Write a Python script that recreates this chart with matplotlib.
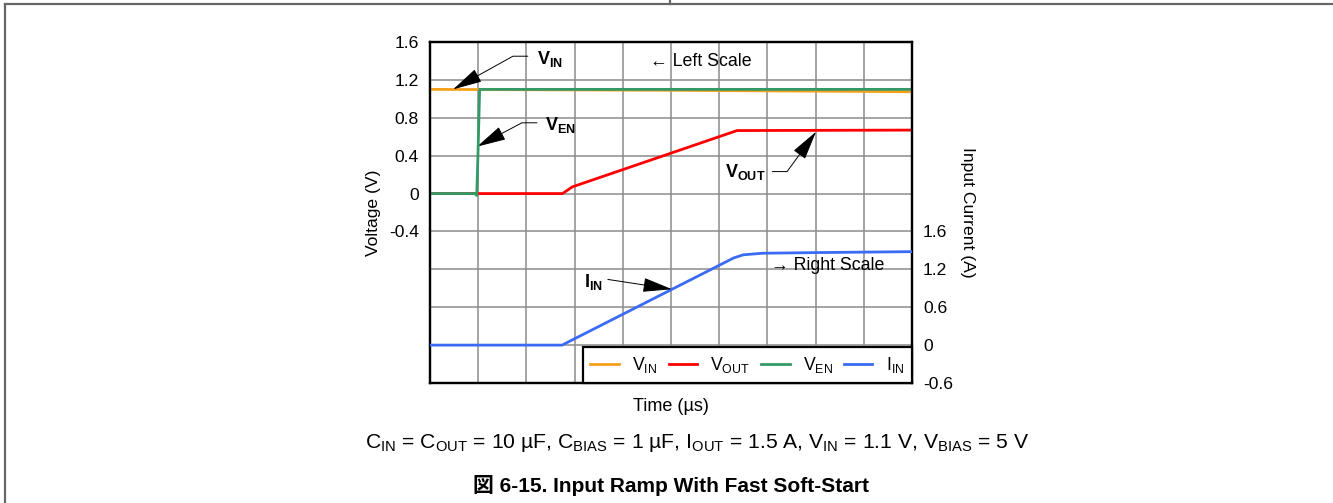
import matplotlib
matplotlib.use("Agg")
import matplotlib.pyplot as plt
from matplotlib.lines import Line2D

plt.rcParams['font.family'] = ['Liberation Sans', 'DejaVu Sans', 'Noto Sans CJK JP']
plt.rcParams['mathtext.fontset'] = 'custom'
plt.rcParams['mathtext.rm'] = 'Liberation Sans'
plt.rcParams['mathtext.it'] = 'Liberation Sans:italic'
plt.rcParams['mathtext.bf'] = 'Liberation Sans:bold'

# Time in scope divisions
t_vin = [0, 5, 10]
vin = [1.10, 1.09, 1.075]

t_ven = [0, 0.93, 0.97, 1.0, 1.03, 1.08, 10]
ven = [0, 0, -0.02, 0.5, 1.10, 1.10, 1.10]

t_vout = [0, 2.75, 2.95, 6.37, 10]
vout = [0, 0, 0.07, 0.665, 0.67]

t_iin = [0, 2.74, 6.3, 6.5, 6.9, 8, 10]
iin = [0, 0, 1.38, 1.43, 1.455, 1.465, 1.48]

left_ticks = [-0.4, 0, 0.4, 0.8, 1.2, 1.6]
left_ticklabels = ['-0.4', '0', '0.4', '0.8', '1.2', '1.6']
right_ticks = [-0.6, 0, 0.6, 1.2, 1.8]
right_ticklabels = ['-0.6', '0', '0.6', '1.2', '1.6']

c_vin = '#F5A01A'
c_vout = '#FF0000'
c_ven = '#339966'
c_iin = '#3A6BF5'

fig = plt.figure(figsize=(13.33, 5.03), dpi=100)
ax = fig.add_axes([430 / 1333, 1 - 383 / 503, 482 / 1333, 341 / 503])
ax2 = ax.twinx()

lw = 2.0
ax.plot(t_vout, vout, color=c_vout, lw=lw, zorder=3)
ax.plot(t_vin, vin, color=c_vin, lw=lw, zorder=3)
ax.plot(t_ven, ven, color=c_ven, lw=lw, zorder=4)
ax2.plot(t_iin, iin, color=c_iin, lw=lw, zorder=3)

ax.set_xlim(0, 10)
ax.set_ylim(-2.0, 1.6)
ax2.set_ylim(-0.6, 4.8)

# grid: 10 x 9 divisions
ax.set_xticks([i for i in range(11)])
ax.set_yticks(left_ticks)
ax.set_yticks([1.6 - 0.4 * i for i in range(10)], minor=True)
ax.grid(True, which='both', color='#8c8c8c', lw=1.1)
ax.set_axisbelow(True)
ax.tick_params(axis='both', which='both', length=0, labelbottom=False)
ax.set_yticklabels(left_ticklabels, fontsize=12.6)
ax.tick_params(axis='y', pad=8)
ax2.set_yticks(right_ticks)
ax2.set_yticklabels(right_ticklabels, fontsize=12.6)
ax2.tick_params(axis='y', which='both', length=0, pad=8)
for a in (ax, ax2):
    for s in a.spines.values():
        s.set_linewidth(1.6)
        s.set_color('black')

ax.set_ylabel('Voltage (V)', fontsize=12.6, labelpad=6)
ax2.set_ylabel('Input Current (A)', fontsize=12.6, rotation=-90, labelpad=16)
ax.set_xlabel('Time (µs)', fontsize=13, labelpad=11)

arrow_kw = dict(arrowstyle='-|>,head_length=1.85,head_width=0.45', color='black',
                lw=0.7, shrinkA=0, shrinkB=0, mutation_scale=10)

# V_IN callout
ax.text(2.22, 1.42, r'$\mathbf{V_{IN}}$', fontsize=13, ha='left', va='center')
ax.annotate('', xy=(0.48, 1.10), xytext=(2.03, 1.45),
            arrowprops=dict(**arrow_kw, connectionstyle='angle,angleA=0,angleB=29,rad=0'))
# V_EN callout
ax.text(2.39, 0.726, r'$\mathbf{V_{EN}}$', fontsize=13, ha='left', va='center')
ax.annotate('', xy=(0.975, 0.495), xytext=(2.22, 0.747),
            arrowprops=dict(**arrow_kw, connectionstyle='angle,angleA=0,angleB=28,rad=0'))
# V_OUT callout
ax.text(6.12, 0.232, r'$\mathbf{V_{OUT}}$', fontsize=13, ha='left', va='center')
ax.annotate('', xy=(8.01, 0.653), xytext=(7.1, 0.232),
            arrowprops=dict(**arrow_kw, connectionstyle='angle,angleA=0,angleB=54,rad=0'))
# I_IN callout
ax2.text(3.2, 0.995, r'$\mathbf{I_{IN}}$', fontsize=13, ha='left', va='center')
ax2.annotate('', xy=(5.02, 0.885), xytext=(3.69, 1.04),
             arrowprops=dict(**arrow_kw, connectionstyle='arc3'))

ax.text(4.56, 1.39, '← Left Scale', fontsize=12.8, ha='left', va='center')
ax2.text(7.07, 1.26, '→ Right Scale', fontsize=12.8, ha='left', va='center')

handles = [Line2D([], [], color=c, lw=lw) for c in (c_vin, c_vout, c_ven, c_iin)]
labels = [r'V$_{\mathrm{IN}}$', r'V$_{\mathrm{OUT}}$', r'V$_{\mathrm{EN}}$', r'I$_{\mathrm{IN}}$']
leg = ax2.legend(handles, labels, loc='lower right', ncol=4, fontsize=12.7,
                 frameon=True, fancybox=False, framealpha=1, edgecolor='black',
                 borderaxespad=0, handlelength=1.6, handletextpad=0.75,
                 columnspacing=0.65, borderpad=0.45)
leg.get_frame().set_linewidth(1.6)

fig.text(697 / 1333, 1 - 443 / 503,
         r'C$_{\mathrm{IN}}$ = C$_{\mathrm{OUT}}$ = 10 µF, C$_{\mathrm{BIAS}}$ = 1 µF, '
         r'I$_{\mathrm{OUT}}$ = 1.5 A, V$_{\mathrm{IN}}$ = 1.1 V, V$_{\mathrm{BIAS}}$ = 5 V',
         fontsize=15.2, ha='center', va='center')
fig.text(671 / 1333, 1 - 486 / 503, '図 6-15. Input Ramp With Fast Soft-Start',
         fontsize=15, fontweight='bold', ha='center', va='center',
         family=['Liberation Sans Narrow', 'Liberation Sans', 'Noto Sans CJK JP'])

# page frame lines
frame_kw = dict(color='#666666', lw=1.6, transform=fig.transFigure)
fig.add_artist(Line2D([5 / 1333, 1], [1 - 4 / 503, 1 - 4 / 503], **frame_kw))
fig.add_artist(Line2D([5 / 1333, 5 / 1333], [0, 1 - 4 / 503], **frame_kw))
fig.add_artist(Line2D([670 / 1333, 670 / 1333], [1 - 4 / 503, 1], **frame_kw))

fig.savefig('out.png', dpi=100)
